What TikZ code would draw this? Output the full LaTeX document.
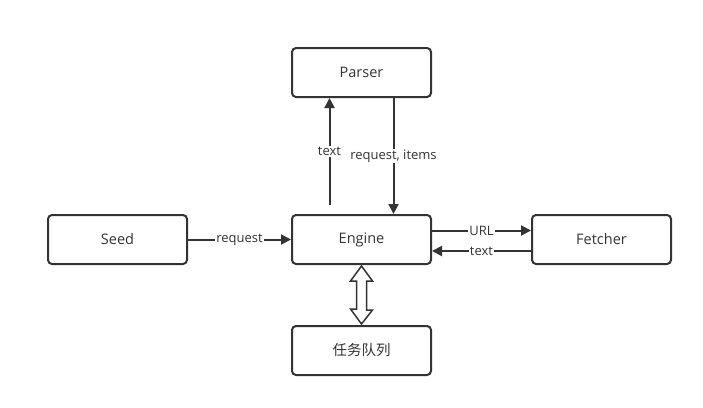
\documentclass[tikz,border=0pt]{standalone}
\usepackage{fontspec}
\setmainfont{Open Sans}
\newfontfamily\cjk{Noto Sans CJK SC}
\usetikzlibrary{arrows.meta,calc}
\definecolor{ink}{HTML}{333333}
\tikzset{
  box/.style={draw=ink,line width=2pt,rounded corners=4pt,minimum width=139pt,minimum height=49pt,inner sep=0pt,text=ink,font=\fontsize{14.5}{17}\selectfont},
  arr/.style={draw=ink,line width=2pt,-{Triangle[length=10pt,width=10pt]}},
  lbl/.style={fill=white,inner sep=1pt,text=ink,font=\fontsize{13}{15}\selectfont}
}
\begin{document}
\begin{tikzpicture}[x=1pt,y=-1pt]
\useasboundingbox (0,0) rectangle (703,407);
\foreach \n/\t/\x/\y in {par/Parser/361.5/72.5,seed/Seed/117.5/239.5,eng/Engine/361.5/239.5,fet/Fetcher/601.5/239.5,que/{\cjk 任务队列}/361.5/350.5}
    \node[box] (\n) at (\x,\y) {\t};
\draw[arr] (seed) -- node[lbl] {request} (eng);
\draw[arr] ([yshift=9pt]eng.east) -- node[lbl] {URL} ([yshift=9pt]fet.west);
\draw[arr] ([yshift=-11.5pt]fet.west) -- node[lbl] {text} ([yshift=-11.5pt]eng.east);
\draw[arr] ([xshift=-32pt,yshift=9pt]eng.north) -- node[lbl] {text} ([xshift=-32pt]par.south);
\draw[arr] ([xshift=32pt]par.south) -- node[lbl] {request, items} ([xshift=32pt]eng.north);
% hollow double arrow to the queue
\draw[ink,line width=1.5pt,fill=white,line join=miter]
    ([yshift=-1pt]eng.south) -- ++(11,15) -- ++(-6,0) -- ($(que.north)+(5,-15)$) -- ++(6,0)
    -- ([yshift=1pt]que.north) -- ++(-11,-15) -- ++(6,0) -- ($(eng.south)+(-5,16)$) -- ++(-6,0) -- cycle;
\end{tikzpicture}
\end{document}
